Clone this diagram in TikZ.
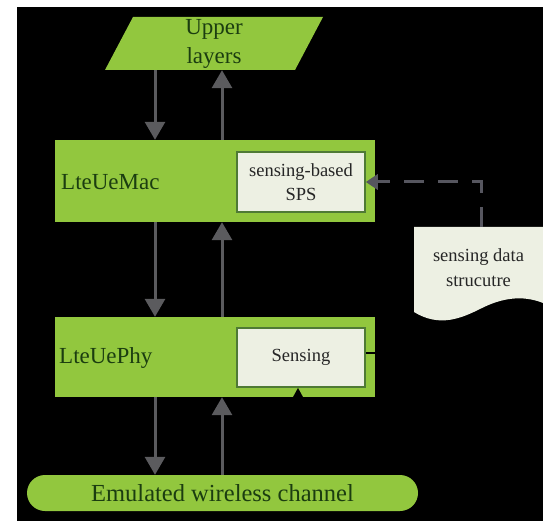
\documentclass[tikz,border=0pt]{standalone}
\usepackage{fontspec}
\setmainfont{Liberation Serif}
\usetikzlibrary{arrows.meta,calc}
\definecolor{lgreen}{HTML}{92C73E}
\definecolor{textgreen}{HTML}{1B3D10}
\definecolor{cream}{HTML}{EDF0E3}
\definecolor{innerborder}{HTML}{4F7A35}
\definecolor{arrowgray}{HTML}{5B5B5E}
\definecolor{dashcol}{HTML}{56565F}
\definecolor{textdark}{HTML}{262626}
\tikzset{
  layerbox/.style={fill=lgreen, minimum width=320pt, inner sep=0pt},
  innerbox/.style={fill=cream, draw=innerborder, line width=1.5pt, minimum width=128pt, inner sep=0pt, align=center, text=textdark, font=\fontsize{18.5}{24}\selectfont},
  bigtext/.style={text=textgreen, font=\fontsize{23}{29}\selectfont, inner sep=0pt},
  flowarrow/.style={draw=arrowgray, line width=3pt, -{Triangle[width=20pt,length=18pt]}},
  dasharrow/.style={draw=dashcol, line width=3pt, dash pattern=on 20pt off 14pt, -{Triangle[width=15pt,length=12pt]}},
  blackline/.style={draw=black, line width=2.5pt},
}
\begin{document}
\begin{tikzpicture}[x=1pt,y=-1pt]
\useasboundingbox (0,0) rectangle (543,521);
\fill[white] (0,0) rectangle (543,521);
\fill[black] (17,7) rectangle (543,521);

% upper layers parallelogram
\fill[lgreen] (133,17) -- (323,17) -- (295,70) -- (105,70) -- cycle;
\node[bigtext, minimum width=190pt, minimum height=53pt, align=center] (upper) at (214,43.5) {Upper\\layers};

% MAC layer
\node[layerbox, minimum height=82pt] (mac) at (215,181) {};
\node[bigtext, anchor=west] (maclabel) at (61,182) {LteUeMac};
\node[innerbox, minimum height=60pt] (sps) at (301,182) {sensing-based\\SPS};

% PHY layer
\node[layerbox, minimum height=80pt] (phy) at (215,357) {};
\node[bigtext, anchor=west] (phylabel) at (59,358) {LteUePhy};
\node[innerbox, minimum height=59pt] (sensing) at (301,357.5) {Sensing};

% channel
\node[fill=lgreen, rounded corners=18pt, minimum width=391pt, minimum height=36pt, inner sep=0pt, text=textgreen, font=\fontsize{24.5}{29}\selectfont] (chan) at (222.5,493) {Emulated wireless channel};

% sensing data structure (document shape)
\fill[cream] (414,227) -- (543,227) -- (543,303)
  .. controls (528,297) and (508,295) .. (482,308)
  .. controls (462,318) and (440,328) .. (414,312) -- cycle;
\node[minimum width=129pt, minimum height=82pt, inner sep=0pt, align=center, text=textdark, font=\fontsize{18.5}{25}\selectfont] (doc) at (478.5,268) {sensing data\\strucutre};

% arrow columns
\coordinate (xd) at (155,0);
\coordinate (xu) at (222,0);
\coordinate (xdash) at (481,0);

\draw[flowarrow] (upper.south -| xd) -- (mac.north -| xd);
\draw[flowarrow] (mac.north -| xu) -- (upper.south -| xu);
\draw[flowarrow] (mac.south -| xd) -- (phy.north -| xd);
\draw[flowarrow] (phy.north -| xu) -- (mac.south -| xu);
\draw[flowarrow] (phy.south -| xd) -- (chan.north -| xd);
\draw[flowarrow] (chan.north -| xu) -- (phy.south -| xu);

% dashed connector from data structure to SPS
\draw[dasharrow] (doc.north -| xdash) |- (sps.east);

% black connectors attached to Sensing
\coordinate (sensout) at (400,353);
\coordinate (sensin) at (298,440);
\draw[blackline] (sensing.east |- sensout) -- (sensout);
\draw[blackline, -{Triangle[width=10pt,length=10pt]}] (sensin) -- (sensing.south -| sensin);
\end{tikzpicture}
\end{document}
